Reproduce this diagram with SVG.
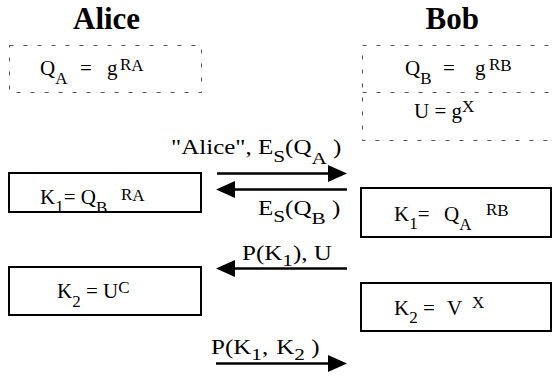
<svg xmlns="http://www.w3.org/2000/svg" width="552" height="376" viewBox="0 0 552 376">
<style>
.t{font-size:21px}
.s{font-size:17px}
.lb{font-size:20px}
.ls{font-size:17px}
.h{font-size:31px;font-weight:bold}
.dash{fill:none;stroke:#555;stroke-width:1;stroke-dasharray:4 10}
.box{fill:#fff;stroke:#000;stroke-width:2}
.arr{stroke:#000;stroke-width:2.5;fill:none;marker-end:url(#ah)}
</style>
<defs>
<marker id="ah" markerUnits="userSpaceOnUse" markerWidth="20" markerHeight="18" refX="9" refY="8.5" orient="auto">
<path d="M0,0 L19,8.5 L0,17 Z" fill="#000"/>
</marker>
</defs>
<rect width="552" height="376" fill="#fff"/>
<g font-family="Liberation Serif, Times New Roman, serif" fill="#000">
<g id="alice-title"><text class="h" x="73" y="29">Alice</text></g>
<g id="bob-title"><text class="h" x="425.5" y="29">Bob</text></g>
<g id="alice-public">
<rect class="dash" x="9.5" y="45.5" width="192" height="47"/>
<text class="t" x="40" y="75">Q<tspan class="s" y="84">A </tspan><tspan x="80" y="75">= </tspan><tspan x="107" y="75">g</tspan><tspan class="s" x="120" y="70">R</tspan><tspan class="s" y="71">A</tspan></text>
</g>
<g id="bob-public">
<rect class="dash" x="362.5" y="45.5" width="192" height="95"/>
<line class="dash" x1="362.5" y1="92.5" x2="552" y2="92.5"/>
<text class="t" x="405" y="75">Q<tspan class="s" y="84">B </tspan><tspan x="443" y="75">= </tspan><tspan x="475" y="75">g</tspan><tspan class="s" x="489" y="70">R</tspan><tspan class="s" y="71">B</tspan></text>
<text class="t" x="414" y="118">U = g<tspan class="s" y="111.5">X</tspan></text>
</g>
<g id="alice-k1">
<rect class="box" x="9" y="173" width="192" height="39"/>
<text class="t" x="40" y="204">K<tspan class="s" y="212">1</tspan><tspan y="204">= Q</tspan><tspan class="s" y="213">B </tspan><tspan class="s" x="121" y="200">R</tspan><tspan class="s" y="200.5">A</tspan></text>
</g>
<g id="bob-k1">
<rect class="box" x="361" y="188" width="190" height="49"/>
<text class="t" x="394" y="221">K<tspan class="s" y="229">1</tspan><tspan y="221">= </tspan><tspan x="444" y="221">Q</tspan><tspan class="s" y="230">A </tspan><tspan class="s" x="486" y="215">R</tspan><tspan class="s" y="215.5">B</tspan></text>
</g>
<g id="alice-k2">
<rect class="box" x="9" y="267" width="192" height="48"/>
<text class="t" x="57" y="298">K<tspan class="s" y="307">2</tspan><tspan y="298"> = U</tspan><tspan class="s" y="293">C</tspan></text>
</g>
<g id="bob-k2">
<rect class="box" x="361" y="283" width="190" height="48"/>
<text class="t" x="394" y="315">K<tspan class="s" y="323">2</tspan><tspan y="315"> = </tspan><tspan x="447" y="315">V </tspan><tspan class="s" x="472" y="308">X</tspan></text>
</g>
<g id="connectors">
<line class="arr" x1="217" y1="173.5" x2="337" y2="173.5"/>
<line class="arr" x1="347" y1="189.5" x2="226" y2="189.5"/>
<line class="arr" x1="347" y1="268.5" x2="226" y2="268.5"/>
<line class="arr" x1="216" y1="363.5" x2="337" y2="363.5"/>
<text class="lb" transform="matrix(1.25 0 0 1 171 0)" x="0" y="154">"Alice", E<tspan class="ls" y="162">S</tspan><tspan y="154">(Q</tspan><tspan class="ls" y="164">A</tspan><tspan y="154"> )</tspan></text>
<text class="lb" transform="matrix(1.25 0 0 1 258 0)" x="0" y="215">E<tspan class="ls" y="222">S</tspan><tspan y="215">(Q</tspan><tspan class="ls" y="224">B</tspan><tspan y="215"> )</tspan></text>
<text class="lb" transform="matrix(1.25 0 0 1 242 0)" x="0" y="260">P(K<tspan class="ls" y="266">1</tspan><tspan y="260">), U</tspan></text>
<text class="lb" transform="matrix(1.25 0 0 1 211 0)" x="0" y="354">P(K<tspan class="ls" y="360">1</tspan><tspan y="354">, </tspan><tspan dx="1.5">K</tspan><tspan class="ls" y="360">2</tspan><tspan y="354"> )</tspan></text>
</g>
</g>
</svg>
